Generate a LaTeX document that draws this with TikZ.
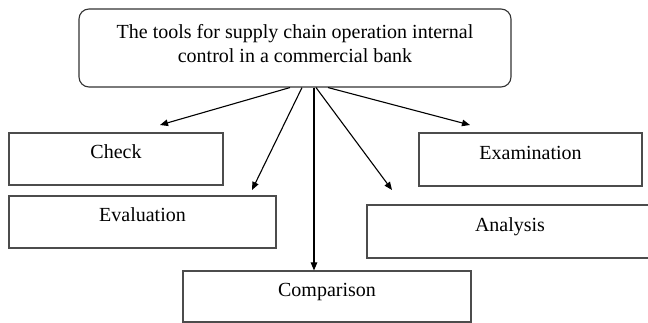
\documentclass[tikz,border=0pt]{standalone}
\usepackage{fontspec}
\setmainfont{Liberation Serif}
\usetikzlibrary{arrows.meta}
\definecolor{frame}{gray}{0.30}
\tikzset{
  x=1pt, y=1pt,
  txt/.style={font=\fontsize{20}{24}\selectfont, text=black},
  toolbox/.style={txt, draw=frame, line width=1.1pt, inner sep=0pt,
    text height=14pt, text depth=14pt},
  rootbox/.style={txt, draw=black!80, line width=1.1pt, rounded corners=10pt,
    inner sep=0pt, align=center},
  arr/.style={draw=black, line width=1.1pt, -{Triangle[length=8pt,width=6.5pt]}}
}
\begin{document}
\begin{tikzpicture}
\useasboundingbox (0,0) rectangle (648,-323);

% root
\node[rootbox, minimum width=432pt, minimum height=78pt] (root) at (295,-48)
  {The tools for supply chain operation internal\\control in a commercial bank\rule[-10pt]{0pt}{0pt}};

% tools
\node[toolbox, minimum width=214pt, minimum height=52pt] (check) at (116,-159) {Check};
\node[toolbox, minimum width=267pt, minimum height=52pt] (eval) at (142.5,-222) {Evaluation};
\node[toolbox, minimum width=223pt, minimum height=53pt] (exam) at (530.5,-159.5) {Examination};
\node[toolbox, minimum width=286pt, minimum height=53pt] (anal) at (510,-231.5) {Analysis};
\node[toolbox, minimum width=288pt, minimum height=51pt] (comp) at (327,-296.5) {Comparison};

% arrow starts on the root's lower edge
\coordinate (scheck) at ([xshift=-5pt]root.south);
\coordinate (seval)  at ([xshift=7pt]root.south);
\coordinate (scomp)  at ([xshift=19pt]root.south);
\coordinate (sanal)  at ([xshift=21pt]root.south);
\coordinate (sexam)  at ([xshift=33pt]root.south);

% arrow ends
\coordinate (tcheck) at (160,-125);
\coordinate (teval) at (252,-190);
\coordinate (tanal) at (392,-190);
\coordinate (texam) at (470,-125);

\draw[arr] (scheck) -- (tcheck);
\draw[arr] (seval) -- (teval);
\draw[arr] (scomp) -- (scomp |- comp.north);
\draw[arr] (sanal) -- (tanal);
\draw[arr] (sexam) -- (texam);
\end{tikzpicture}
\end{document}
